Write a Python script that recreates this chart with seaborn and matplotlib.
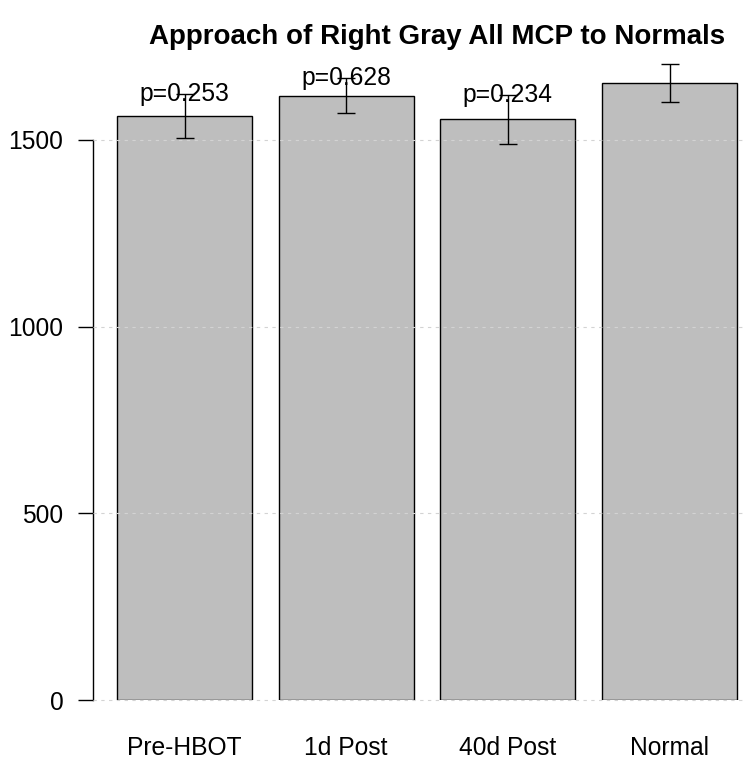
import numpy as np
import pandas as pd
import matplotlib
matplotlib.use("Agg")
import matplotlib.pyplot as plt
import seaborn as sns

# Group means, standard errors and p-values versus the normal group
groups = ["Pre-HBOT", "1d Post", "40d Post", "Normal"]
means = [1565, 1618, 1555, 1652]
errors = [59, 47, 66, 51]
pvalues = ["0.253", "0.628", "0.234", None]
yticks = [0, 500, 1000, 1500]

sns.set_style("white")
plt.rcParams["font.family"] = ["Liberation Sans", "DejaVu Sans"]
plt.rcParams["text.color"] = "black"
plt.rcParams["xtick.color"] = "black"
plt.rcParams["ytick.color"] = "black"
plt.rcParams["axes.labelcolor"] = "black"

W, H = 749, 762
fig = plt.figure(figsize=(W / 100, H / 100), dpi=100)

# plot region in pixels
left_px, right_px, bottom_px, top_px = 93, 745, 700, 50
ax = fig.add_axes([left_px / W, 1 - bottom_px / H,
                   (right_px - left_px) / W, (bottom_px - top_px) / H])

df = pd.DataFrame({"group": groups, "mean": means})
sns.barplot(data=df, x="group", y="mean", color="#BEBEBE", saturation=1,
            edgecolor="black", linewidth=1.0, width=0.835, errorbar=None,
            ax=ax, zorder=2)

ax.errorbar(np.arange(len(groups)), means, yerr=errors, fmt="none",
            ecolor="black", elinewidth=1.0, capsize=6.8, capthick=1.0,
            clip_on=False, zorder=4)

fs = 17.7
for i, (m, e, p) in enumerate(zip(means, errors, pvalues)):
    if p is not None:
        ax.text(i, m + e, f"p={p}", ha="center", va="center",
                fontsize=fs, color="black", zorder=5, clip_on=False)

# dashed reference lines over the bars
for v in yticks:
    ax.axhline(v, color="#D3D3D3", lw=0.8, dashes=(3, 4), zorder=3,
               clip_on=False)

px_per_unit = 161.67
ax.set_xlim((left_px - 184.5) / px_per_unit, (right_px - 184.5) / px_per_unit)
ax.set_ylim(0, (bottom_px - top_px) / (560 / 1500))

ax.set_yticks(yticks)
ax.set_yticklabels([str(v) for v in yticks], fontsize=fs, color="black")
ax.tick_params(axis="y", direction="out", length=10.8, width=1.0,
               pad=10.5, colors="black", left=True)
ax.tick_params(axis="x", length=0, pad=26, labelsize=fs, labelcolor="black")
ax.set_xlabel("")
ax.set_ylabel("")

for s in ["top", "right", "bottom"]:
    ax.spines[s].set_visible(False)
ax.spines["left"].set_bounds(0, 1500)
ax.spines["left"].set_linewidth(1.0)
ax.spines["left"].set_color("black")
ax.patch.set_alpha(0)

fig.text(437 / W, 1 - 37 / H, "Approach of Right Gray All MCP to Normals",
         ha="center", va="center", fontsize=20, fontweight="bold",
         color="black")

fig.savefig("out.png", dpi=100)
